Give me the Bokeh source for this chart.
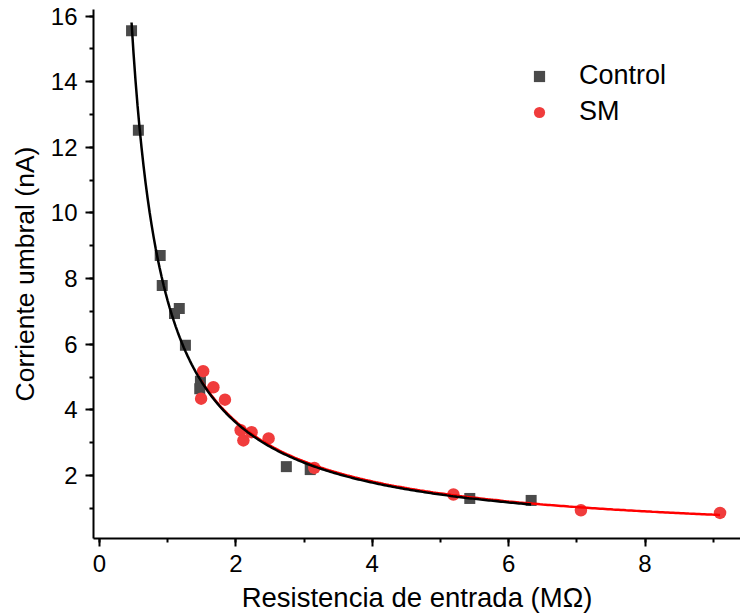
import numpy as np
from bokeh.plotting import figure
from bokeh.models import Range1d, SingleIntervalTicker, Legend, LegendItem
from bokeh.embed import file_html
from bokeh.resources import INLINE

# Control data
ctrl_x = [0.47, 0.57, 0.89, 0.92, 1.10, 1.17, 1.26, 1.48, 1.47, 2.74, 3.09, 5.43, 6.33]
ctrl_y = [15.55, 12.52, 8.70, 7.79, 6.94, 7.09, 5.97, 4.87, 4.64, 2.27, 2.18, 1.30, 1.24]
# SM data
sm_x = [1.52, 1.67, 1.49, 1.84, 2.07, 2.23, 2.11, 2.48, 3.15, 5.19, 7.06, 9.10]
sm_y = [5.18, 4.69, 4.34, 4.31, 3.38, 3.32, 3.07, 3.13, 2.23, 1.42, 0.94, 0.86]

x_label = "Resistencia de entrada (MΩ)"
y_label = "Corriente umbral (nA)"
series_names = ["Control", "SM"]

FONT = "Liberation Sans"

def power_fit(xs, ys, n=200):
    lx, ly = np.log(xs), np.log(ys)
    b, la = np.polyfit(lx, ly, 1)
    xf = np.linspace(min(xs), max(xs), n)
    return xf, np.exp(la) * xf ** b

p = figure(width=740, height=615, output_backend="svg", toolbar_location=None,
           x_range=Range1d(-0.088, 9.40), y_range=Range1d(0.08, 16.2),
           min_border_left=93, min_border_right=0, min_border_top=9, min_border_bottom=76)
p.outline_line_color = None
p.xgrid.visible = False
p.ygrid.visible = False
p.background_fill_color = "white"

cfx, cfy = power_fit(ctrl_x, ctrl_y)
sfx, sfy = power_fit(sm_x, sm_y)

r_ctrl = p.scatter(ctrl_x, ctrl_y, marker="square", size=11, fill_color="#4a4a4a", line_color=None)
r_sm = p.scatter(sm_x, sm_y, marker="circle", size=12.5, fill_color="#f03c3c", line_color=None)
p.line(sfx, sfy, line_color="#ff0000", line_width=2.5)
p.line(cfx, cfy, line_color="black", line_width=2.5)

for ax in (p.xaxis[0], p.yaxis[0]):
    ax.ticker = SingleIntervalTicker(interval=2, num_minor_ticks=2)
    ax.axis_line_width = 2
    ax.major_tick_line_width = 2
    ax.minor_tick_line_width = 2
    ax.major_tick_in = 0
    ax.minor_tick_in = 0
    ax.major_tick_out = 8
    ax.minor_tick_out = 4
    ax.major_label_text_font = FONT
    ax.major_label_text_font_size = "24px"
    ax.major_label_text_color = "black"
    ax.axis_label_text_font = FONT
    ax.axis_label_text_font_style = "normal"
    ax.axis_label_text_color = "black"

p.xaxis[0].axis_label = x_label
p.xaxis[0].axis_label_text_font_size = "27.5px"
p.xaxis[0].major_label_standoff = 8
p.xaxis[0].axis_label_standoff = 7
p.yaxis[0].axis_label = y_label
p.yaxis[0].axis_label_text_font_size = "26.5px"
p.yaxis[0].major_label_standoff = 8
p.yaxis[0].axis_label_standoff = 8

legend = Legend(items=[LegendItem(label=series_names[0], renderers=[r_ctrl]),
                       LegendItem(label=series_names[1], renderers=[r_sm])],
                location=(432, 411), padding=0, spacing=5, margin=0,
                glyph_width=28, glyph_height=28, label_standoff=26,
                label_text_font=FONT, label_text_font_size="27px",
                label_text_color="black",
                border_line_color=None, background_fill_alpha=0)
p.add_layout(legend)

open("out.html", "w").write(file_html(p, INLINE))
